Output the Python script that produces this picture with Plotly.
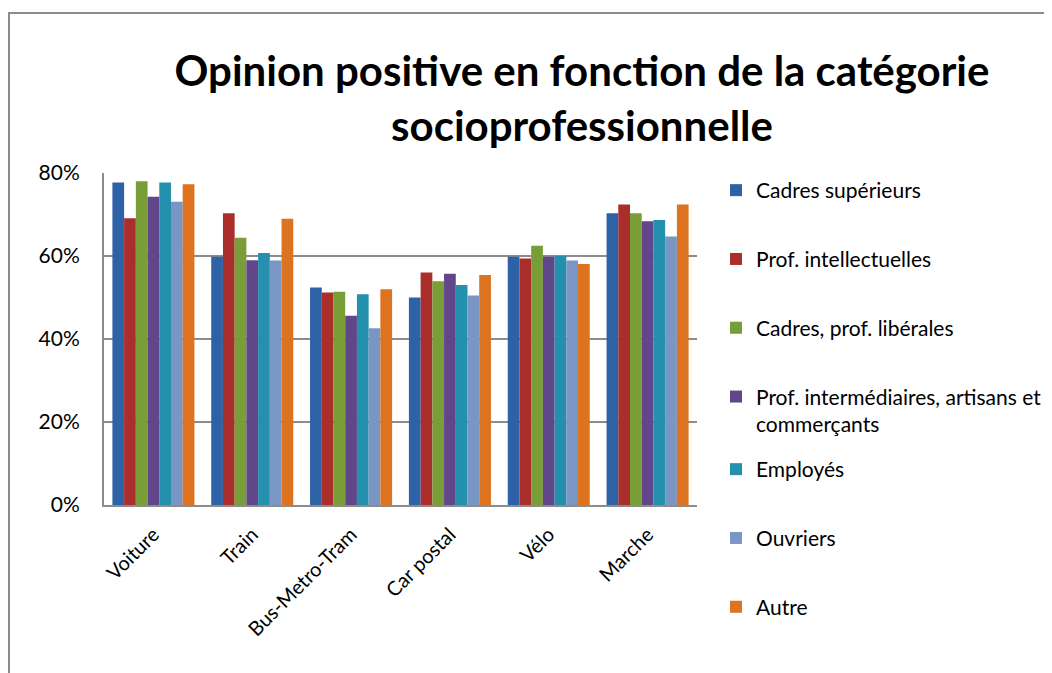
import plotly.graph_objects as go

categories = ["Voiture", "Train", "Bus-Metro-Tram", "Car postal", "Vélo", "Marche"]

series_names = [
    "Cadres supérieurs",
    "Prof. intellectuelles",
    "Cadres, prof. libérales",
    "Prof. intermédiaires, artisans et<br>commerçants",
    "Employés",
    "Ouvriers",
    "Autre",
]

cadres_sup = [0.777, 0.598, 0.524, 0.500, 0.598, 0.703]
prof_intel = [0.691, 0.703, 0.512, 0.560, 0.594, 0.724]
cadres_lib = [0.780, 0.644, 0.514, 0.539, 0.625, 0.703]
prof_inter = [0.743, 0.590, 0.456, 0.557, 0.598, 0.684]
employes = [0.777, 0.607, 0.508, 0.530, 0.600, 0.687]
ouvriers = [0.731, 0.589, 0.426, 0.505, 0.589, 0.647]
autre = [0.773, 0.690, 0.520, 0.554, 0.581, 0.724]

series_values = [cadres_sup, prof_intel, cadres_lib, prof_inter, employes, ouvriers, autre]

colors = ["#2D62A6", "#AA2E2C", "#7A9E37", "#614689", "#2490AD", "#7A96C4", "#DD721F"]

FONT = "Lato"

fig = go.Figure()
for i, (name, vals, col) in enumerate(zip(series_names, series_values, colors)):
    fig.add_trace(go.Bar(
        x=categories, y=vals, name=name,
        marker=dict(color=col, line=dict(width=0)),
        legendgroup=f"g{i}",
        legend="legend" if i < 4 else "legend2",
    ))

# page body has an 8px default margin; work in screen pixels and subtract it
OFF = 8
W, H = 1052 - OFF, 673 - OFF
L, R, T, B = 104 - OFF, 1052 - 697, 173 - OFF, 673 - 505
pw, ph = W - L - R, H - T - B

def px_x(x):
    return (x - OFF - L) / pw

def px_y(y):
    return (H - B - (y - OFF)) / ph

fig.update_layout(
    width=W, height=H,
    margin=dict(l=L, r=R, t=T, b=B, autoexpand=False),
    paper_bgcolor="white", plot_bgcolor="white",
    font=dict(family=FONT, color="#000000"),
    barmode="group", bargap=0.17, bargroupgap=0,
    title=dict(
        text="<b>Opinion positive en fonction de la catégorie<br>socioprofessionnelle</b>",
        x=px_x(582), xref="paper", xanchor="center",
        y=1 - (86 - OFF) / H, yref="container", yanchor="top",
        font=dict(family=FONT, size=42, color="#000000"),
    ),
    legend=dict(
        x=px_x(716), y=px_y(170), xanchor="left", yanchor="top",
        font=dict(family=FONT, size=21, color="#000000"),
        tracegroupgap=38.5, itemwidth=30, valign="top",
        bgcolor="rgba(0,0,0,0)",
    ),
    legend2=dict(
        x=px_x(716), y=px_y(449), xanchor="left", yanchor="top",
        font=dict(family=FONT, size=21, color="#000000"),
        tracegroupgap=38.5, itemwidth=30, valign="top",
        bgcolor="rgba(0,0,0,0)",
    ),
    showlegend=True,
)

fig.update_yaxes(
    range=[0, 0.8], dtick=0.2, tickformat=".0%",
    showgrid=True, gridcolor="#8C8C8C", gridwidth=1.5,
    showline=True, linecolor="#8C8C8C", linewidth=2,
    ticks="", ticklabelstandoff=18,
    tickfont=dict(family=FONT, size=21, color="#000000"),
    zeroline=False,
)
fig.update_xaxes(
    showline=True, linecolor="#8C8C8C", linewidth=2,
    tickangle=-45, ticks="", ticklabelstandoff=8,
    tickfont=dict(family=FONT, size=20, color="#000000"),
)

# outer chart border
fig.add_shape(
    type="rect", xref="paper", yref="paper",
    x0=px_x(9), x1=px_x(1070), y0=px_y(700), y1=px_y(13),
    line=dict(color="#8C8C8C", width=2), fillcolor="rgba(0,0,0,0)",
    layer="below",
)

fig.write_html("out.html")
